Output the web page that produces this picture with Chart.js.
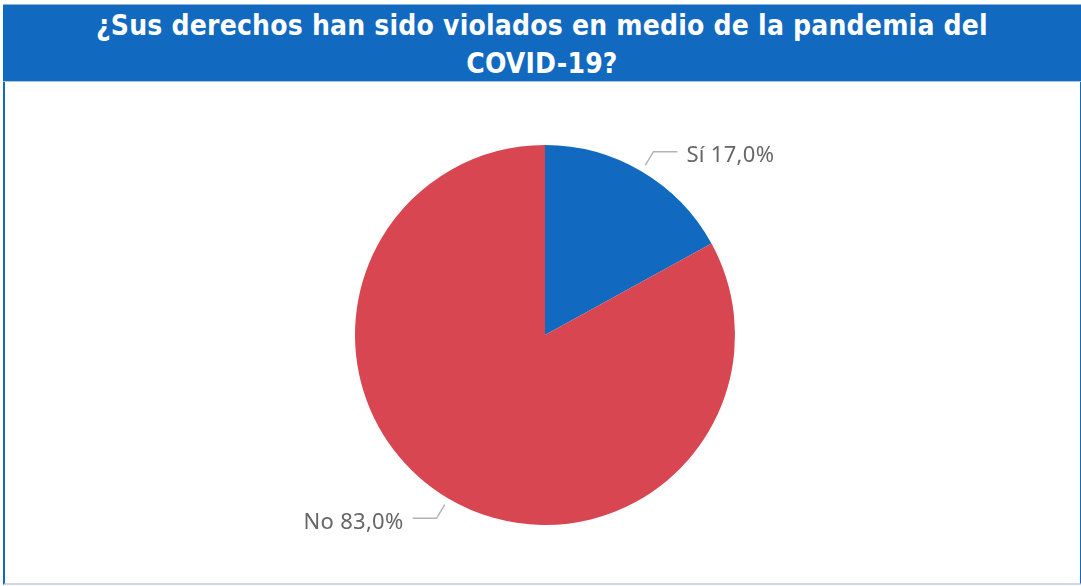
<!DOCTYPE html>
<html>
<head>
<meta charset="utf-8">
<script src="https://cdn.jsdelivr.net/npm/chart.js@4/dist/chart.umd.min.js"></script>
<style>
  html, body { margin: 0; padding: 0; background: #ffffff; }
  body { width: 1081px; height: 586px; position: relative; overflow: hidden; }
  #frame { position: absolute; left: 3px; top: 4px; width: 1075px; height: 579px;
           border-left: 2px solid #1169C0; border-right: 2px solid #1169C0; border-bottom: 2px solid #cfd8e0; }
  #header { position: absolute; left: 3px; top: 4px; width: 1078px; height: 78px; background: #1169C0;
            border-top: 1px solid #8fb3d9; border-bottom: 1px solid #a9c4e0; box-sizing: border-box; overflow: visible; }
  #title { position: absolute; left: 0; top: 2px; width: 1078px; text-align: center; color: #ffffff;
           font-family: "DejaVu Sans Condensed", "DejaVu Sans", sans-serif; font-weight: bold;
           font-size: 28px; line-height: 38px; letter-spacing: 0.2px; }
  #wrap { position: absolute; left: 5px; top: 82px; width: 1073px; height: 501px; }
</style>
</head>
<body>
<div id="frame"></div>
<div id="header"><div id="title">¿Sus derechos han sido violados en medio de la pandemia del<br>COVID-19?</div></div>
<div id="wrap"><canvas id="c"></canvas></div>
<script>
const categories = ["Sí", "No"];
const values = [17.0, 83.0];
const colors = ["#1169C0", "#D84652"];

const leaderLabels = {
  id: "leaderLabels",
  afterDatasetsDraw(chart) {
    const ctx = chart.ctx;
    const meta = chart.getDatasetMeta(0);
    ctx.save();
    meta.data.forEach((arc, i) => {
      const p = arc.getProps(["x", "y", "startAngle", "endAngle", "outerRadius"], true);
      const mid = (p.startAngle + p.endAngle) / 2;
      const cos = Math.cos(mid), sin = Math.sin(mid);
      const r1 = p.outerRadius + 7, r2 = p.outerRadius + 23;
      const x1 = p.x + r1 * cos, y1 = p.y + r1 * sin;
      const x2 = p.x + r2 * cos, y2 = p.y + r2 * sin;
      const dir = cos >= 0 ? 1 : -1;
      const x3 = x2 + dir * 24;
      ctx.strokeStyle = "#b3b3b3";
      ctx.lineWidth = 1.5;
      ctx.beginPath();
      ctx.moveTo(x1, y1); ctx.lineTo(x2, y2); ctx.lineTo(x3, y2);
      ctx.stroke();
      ctx.fillStyle = "#666666";
      ctx.font = '22px "Noto Sans", "Open Sans", sans-serif';
      if ("letterSpacing" in ctx) ctx.letterSpacing = "0.3px";
      ctx.textBaseline = "middle";
      ctx.textAlign = dir > 0 ? "left" : "right";
      const txt = categories[i] + " " + values[i].toFixed(1).replace(".", ",") + "%";
      ctx.fillText(txt, x3 + dir * 9, y2 + 4);
    });
    ctx.restore();
  }
};

new Chart(document.getElementById("c"), {
  type: "pie",
  data: {
    labels: categories,
    datasets: [{ data: values, backgroundColor: colors, borderWidth: 0 }]
  },
  options: {
    responsive: true,
    maintainAspectRatio: false,
    animation: false,
    layout: { padding: { top: 63, bottom: 58, left: 7, right: 0 } },
    plugins: { legend: { display: false }, tooltip: { enabled: false }, title: { display: false } }
  },
  plugins: [leaderLabels]
});
</script>
</body>
</html>
